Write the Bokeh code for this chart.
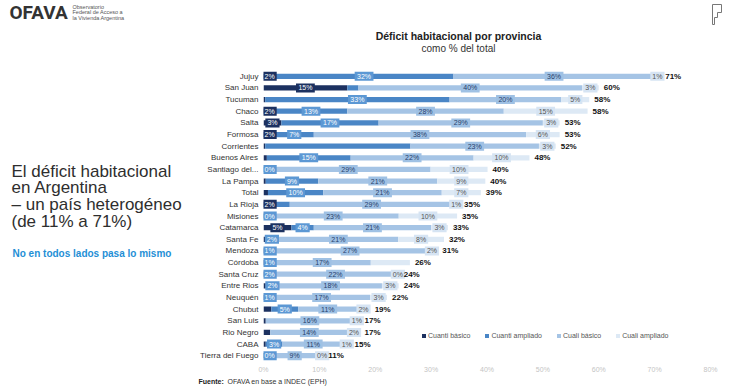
from bokeh.plotting import figure
from bokeh.layouts import column, row
from bokeh.models import (FactorRange, Range1d, FixedTicker, PrintfTickFormatter,
                          Legend, LegendItem, ColumnDataSource)
from bokeh.core.properties import value
from bokeh.embed import file_html
from bokeh.resources import INLINE

# ---- data: housing deficit by province, % of households ----
provinces = ["Jujuy", "San Juan", "Tucuman", "Chaco", "Salta", "Formosa", "Corrientes",
             "Buenos Aires", "Santiago del...", "La Pampa", "Total", "La Rioja", "Misiones",
             "Catamarca", "Santa Fe", "Mendoza", "Córdoba", "Santa Cruz", "Entre Rios",
             "Neuquén", "Chubut", "San Luis", "Rio Negro", "CABA", "Tierra del Fuego"]
cuanti_basico = [2.0, 15.0, 0.3, 2.0, 3.2, 2.0, 0.3, 0.6, 0.0, 0.4, 0.8, 2.1, 0.3,
                 5.0, 0.3, 0.4, 0.4, 0.3, 0.4, 0.3, 1.4, 0.4, 1.2, 0.4, 0.4]
cuanti_ampliado = [32.0, 2.0, 33.0, 13.0, 17.4, 7.0, 26.0, 15.0, 0.45, 9.4, 9.9, 2.6, 0.45,
                   4.0, 2.4, 1.4, 1.4, 1.6, 2.4, 1.4, 4.8, 0.0, 0.0, 3.0, 0.45]
cuali_basico = [36.0, 40.0, 20.0, 28.0, 29.4, 38.0, 23.0, 22.0, 29.45, 21.3, 21.2, 29.3, 23.45,
                21.0, 21.4, 27.4, 17.4, 22.0, 18.4, 17.4, 10.6, 15.8, 14.0, 11.0, 9.45]
cuali_ampliado = [1.0, 3.0, 5.0, 15.0, 3.0, 6.0, 3.0, 10.0, 10.2, 8.6, 7.0, 1.0, 10.45,
                  3.0, 8.2, 1.9, 7.0, 0.3, 3.0, 3.0, 2.2, 1.0, 2.0, 1.0, 0.4]
totals = [71, 60, 58, 58, 53, 53, 52, 48, 40, 40, 39, 35, 35, 33, 32, 31, 26, 24, 24,
          22, 19, 17, 17, 15, 11]
series_names = ["Cuanti básico", "Cuanti ampliado", "Cuali básico", "Cuali ampliado"]
x_ticks = [0, 10, 20, 30, 40, 50, 60, 70, 80]

# segment labels that the chart leaves out
hidden_labels = {("San Juan", 1), ("La Rioja", 1), ("Corrientes", 1), ("Córdoba", 3)}

# ---- styling ----
bar_colors = ["#1c3160", "#4a86c6", "#a5c4e5", "#dde9f5"]
box_colors = ["#1c3160", "#5c98d4", "#9fc1e4", "#d6e4f3"]
text_colors = ["#ffffff", "#ffffff", "#26406b", "#555555"]
FONT = "Liberation Sans"

W, H = 730, 390
HEAD_H = 60          # masthead + chart title strip
FOOT_H = 15          # source note strip
MID_H = H - HEAD_H - FOOT_H
LEFT_W = 190         # headline column
CHART_W = W - LEFT_W
FL, FR, FT, FB = 263, 710, 70, 361   # plot frame edges on the page
PX_PER_PCT = (FR - FL) / 80.0


def blank(w, h):
    """A figure whose data space is its own pixel grid, used for page text."""
    f = figure(width=w, height=h, x_range=Range1d(0, w), y_range=Range1d(h, 0),
               x_axis_type=None, y_axis_type=None,
               output_backend="svg", toolbar_location=None, min_border=0)
    f.grid.visible = False
    f.outline_line_color = None
    f.background_fill_color = "white"
    f.border_fill_color = "white"
    return f


def put(f, x, y, text, size, color, bold=False, align="left", font=FONT):
    f.text(x=[x], y=[y], text=[text], text_font=value(font), text_font_size=value(size),
           text_color=color, text_font_style="bold" if bold else "normal",
           text_align=align, text_baseline="middle")


# ---- masthead and chart title ----
head = blank(W, HEAD_H)
put(head, 9, 12, "OFAVA", "19px", "#333333", bold=True, font="Roboto")
for j, line in enumerate(["Observatorio", "Federal de Acceso a", "la Vivienda Argentina"]):
    put(head, 72, 6 + 5.5 * j, line, "5.5px", "#555555")
put(head, 458, 35, "Déficit habitacional por provincia", "10.5px", "#222222", bold=True, align="center")
put(head, 458, 48, "como % del total", "10px", "#333333", align="center")
head.line(x=[712, 721, 721, 717, 717, 714, 714, 712, 712],
          y=[4, 4, 12, 12, 17, 17, 24, 24, 4], line_color="#777777", line_width=1)

# ---- headline column ----
left = blank(LEFT_W, MID_H)
for j, line in enumerate(["El déficit habitacional", "en Argentina",
                          "– un país heterogéneo", "(de 11% a 71%)"]):
    put(left, 11, 169 + 18 * j - HEAD_H, line, "17px", "#2e2e2e")
put(left, 12, 258 - HEAD_H, "No en todos lados pasa lo mismo", "10px", "#1f8fd6", bold=True)

# ---- stacked bar chart ----
p = figure(width=CHART_W, height=MID_H, x_range=Range1d(0, 80),
           y_range=FactorRange(factors=provinces[::-1]),
           output_backend="svg", toolbar_location=None,
           min_border_left=FL - LEFT_W, min_border_right=W - FR,
           min_border_top=FT - HEAD_H, min_border_bottom=HEAD_H + MID_H - FB)
p.outline_line_color = None
p.xgrid.grid_line_color = None
p.ygrid.grid_line_color = None
p.background_fill_color = "white"
p.border_fill_color = "white"

p.yaxis.axis_line_color = None
p.yaxis.major_tick_line_color = None
p.yaxis.minor_tick_line_color = None
p.yaxis.major_tick_out = 0
p.yaxis.major_tick_in = 0
p.yaxis.major_label_standoff = 5
p.yaxis.major_label_text_font = FONT
p.yaxis.major_label_text_font_size = "8px"
p.yaxis.major_label_text_color = "#333333"

p.xaxis.axis_line_color = None
p.xaxis.major_tick_line_color = None
p.xaxis.minor_tick_line_color = None
p.xaxis.major_tick_out = 0
p.xaxis.major_tick_in = 0
p.xaxis.minor_tick_out = 0
p.xaxis.ticker = FixedTicker(ticks=x_ticks)
p.xaxis.formatter = PrintfTickFormatter(format="%d%%")
p.xaxis.major_label_standoff = 4
p.xaxis.major_label_text_font = FONT
p.xaxis.major_label_text_font_size = "7px"
p.xaxis.major_label_text_color = "#c4c4c4"

series = [cuanti_basico, cuanti_ampliado, cuali_basico, cuali_ampliado]
base = [0.0] * len(provinces)
renderers = []
label_sets = []
for k, vals in enumerate(series):
    lefts, rights, ys = [], [], []
    lx, ly, lt, lw = [], [], [], []
    for i, v in enumerate(vals):
        if v > 0:
            lefts.append(base[i])
            rights.append(base[i] + v)
            ys.append(provinces[i])
            show = (provinces[i], k) not in hidden_labels
            if k == 0 and v < 1.5:
                show = False
            if show:
                t = f"{v:.0f}%"
                w = 5 + 4.6 * len(t)
                # keep boxes of tiny first segments inside the plot area
                lx.append(max(base[i] + v / 2, (w / 2 - 1) / PX_PER_PCT))
                ly.append(provinces[i])
                lt.append(t)
                lw.append(w)
        base[i] += v
    src = ColumnDataSource(dict(left=lefts, right=rights, y=ys))
    r = p.hbar(y="y", left="left", right="right", height=0.45, source=src,
               fill_color=bar_colors[k], line_color=None)
    renderers.append(r)
    label_sets.append((k, ColumnDataSource(dict(x=lx, y=ly, t=lt, w=lw))))

# data labels with coloured boxes
for k, lsrc in label_sets:
    p.rect(x="x", y="y", width="w", height=9, width_units="screen", height_units="screen",
           source=lsrc, fill_color=box_colors[k], line_color=None)
    p.text(x="x", y="y", text="t", source=lsrc, text_font=value(FONT),
           text_font_size=value("7px"), text_color=text_colors[k],
           text_align="center", text_baseline="middle")

# totals at the end of each bar
tot_src = ColumnDataSource(dict(x=base, y=provinces, t=[f"{t}%" for t in totals]))
p.text(x="x", y="y", text="t", source=tot_src, x_offset=5, text_font=value(FONT),
       text_font_size=value("8px"), text_font_style="bold", text_color="#111111",
       text_align="left", text_baseline="middle")

legend = Legend(items=[LegendItem(label=n, renderers=[r]) for n, r in zip(series_names, renderers)],
                orientation="horizontal", location=(158, 22),
                glyph_width=5, glyph_height=5, label_standoff=2, spacing=14,
                label_text_font=FONT, label_text_font_size="7px", label_text_color="#555555",
                label_height=8, padding=0, margin=0,
                background_fill_alpha=0, border_line_alpha=0)
p.add_layout(legend)

# ---- source note ----
foot = blank(W, FOOT_H)
put(foot, 198, 381 - H + FOOT_H, "Fuente:", "7px", "#222222", bold=True)
put(foot, 227, 381 - H + FOOT_H, "OFAVA en base a INDEC (EPH)", "7px", "#333333")

page = column(head, row(left, p, spacing=0), foot, spacing=0)
open("out.html", "w").write(file_html(page, INLINE))
